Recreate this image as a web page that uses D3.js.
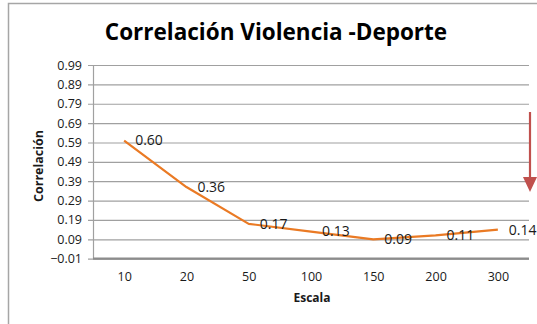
<!DOCTYPE html>
<html>
<head>
<meta charset="utf-8">
<script src="https://cdn.jsdelivr.net/npm/d3@7"></script>
<style>
  html, body { margin: 0; padding: 0; background: #fff; }
  svg { display: block; }
  text { font-family: "Open Sans", "Liberation Sans", Arial, sans-serif; }
</style>
</head>
<body>
<svg id="chart" width="537" height="324"></svg>
<script>
// Correlation by scale
const categories = ["10", "20", "50", "100", "150", "200", "300"];
const correlation = [0.60, 0.36, 0.17, 0.13, 0.09, 0.11, 0.14];
const yTicks = [-0.01, 0.09, 0.19, 0.29, 0.39, 0.49, 0.59, 0.69, 0.79, 0.89, 0.99];

const svg = d3.select("#chart");
const W = 537, H = 324;
const plot = { left: 93, right: 529, top: 65, bottom: 258.7 };

// chart frame
svg.append("path")
  .attr("d", `M8.5,${H} V3.5 H${W}`)
  .attr("fill", "none")
  .attr("stroke", "#a6a6a6")
  .attr("stroke-width", 1.5);

const x = d3.scalePoint()
  .domain(categories)
  .range([plot.left, plot.right])
  .padding(0.5);

const y = d3.scaleLinear()
  .domain([yTicks[0], yTicks[yTicks.length - 1]])
  .range([plot.bottom, plot.top]);

// horizontal gridlines with small outer tick marks
const yAxis = d3.axisLeft(y)
  .tickValues(yTicks)
  .tickSize(-(plot.right - plot.left))
  .tickPadding(11)
  .tickFormat(d3.format(".2f"));

const gy = svg.append("g")
  .attr("transform", `translate(${plot.left},0)`)
  .call(yAxis);
gy.select(".domain").remove();
gy.selectAll(".tick line")
  .attr("x1", -5)
  .attr("stroke", "#a0a0a0")
  .attr("stroke-width", 1.2);
gy.selectAll(".tick text")
  .attr("fill", "#1a1a1a")
  .attr("font-size", 12.5);

// vertical axis line
svg.append("line")
  .attr("x1", plot.left + 0.5).attr("x2", plot.left + 0.5)
  .attr("y1", plot.top).attr("y2", plot.bottom)
  .attr("stroke", "#a0a0a0")
  .attr("stroke-width", 1.2);

// category axis
const xAxis = d3.axisBottom(x).tickSize(0).tickPadding(13);
const gx = svg.append("g")
  .attr("transform", `translate(0,${plot.bottom})`)
  .call(xAxis);
gx.select(".domain").remove();
gx.selectAll(".tick text")
  .attr("fill", "#1a1a1a")
  .attr("font-size", 12.5);

svg.append("line")
  .attr("x1", plot.left).attr("x2", plot.right)
  .attr("y1", plot.bottom).attr("y2", plot.bottom)
  .attr("stroke", "#8c8c8c")
  .attr("stroke-width", 2.2);

// series line
const line = d3.line()
  .x((d, i) => x(categories[i]))
  .y(d => y(d));

svg.append("path")
  .datum(correlation)
  .attr("d", line)
  .attr("fill", "none")
  .attr("stroke", "#ea7a24")
  .attr("stroke-width", 2.2)
  .attr("stroke-linejoin", "round");

// value labels to the right of each point
svg.append("g")
  .selectAll("text")
  .data(correlation)
  .join("text")
  .attr("x", (d, i) => x(categories[i]) + 11)
  .attr("y", d => y(d))
  .attr("dy", "0.35em")
  .attr("font-size", 14)
  .attr("fill", "#1a1a1a")
  .text(d => d3.format(".2f")(d));

// titles
svg.append("text")
  .attr("x", 276).attr("y", 40)
  .attr("text-anchor", "middle")
  .attr("font-size", 22.5)
  .attr("font-weight", "bold")
  .attr("fill", "#000")
  .text("Correlación Violencia -Deporte");

svg.append("text")
  .attr("x", 312).attr("y", 302)
  .attr("text-anchor", "middle")
  .attr("font-size", 12)
  .attr("font-weight", "bold")
  .attr("fill", "#1a1a1a")
  .text("Escala");

svg.append("text")
  .attr("transform", "translate(43,166) rotate(-90)")
  .attr("text-anchor", "middle")
  .attr("font-size", 12.5)
  .attr("font-weight", "bold")
  .attr("fill", "#1a1a1a")
  .text("Correlación");

// red downward arrow at the right edge
const arrow = svg.append("g").attr("fill", "#c0504d").attr("stroke", "#c0504d");
arrow.append("line")
  .attr("x1", 530).attr("x2", 530)
  .attr("y1", 112).attr("y2", 180)
  .attr("stroke-width", 2.2);
arrow.append("path")
  .attr("d", "M523,177 L537,177 L530,192 Z")
  .attr("stroke", "none");
</script>
</body>
</html>
